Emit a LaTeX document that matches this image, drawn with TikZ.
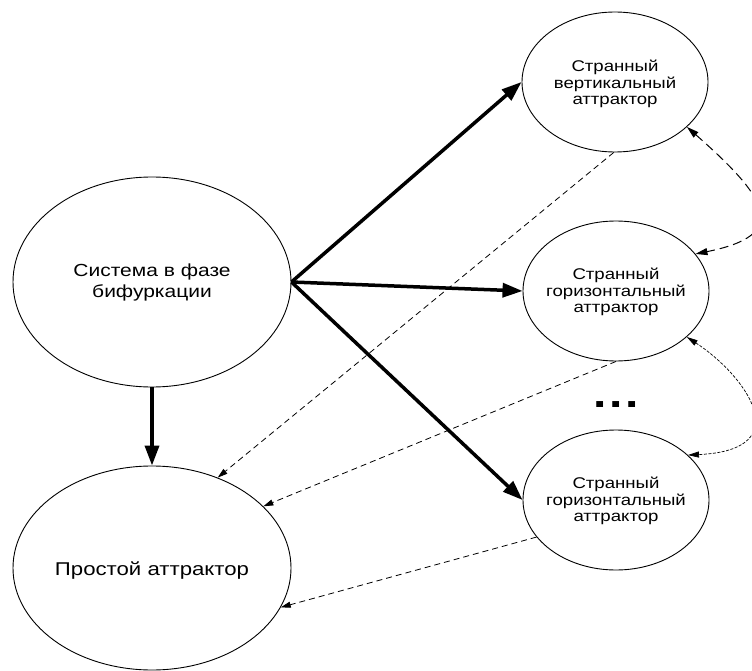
\documentclass[tikz,border=0pt]{standalone}
\usepackage{fontspec}
\setmainfont{Liberation Sans}[FakeStretch=1.2]
\usetikzlibrary{arrows.meta,shapes.geometric}
\begin{document}
\begin{tikzpicture}[x=1pt,y=-1pt,
  ell/.style={draw,ellipse,line width=0.9pt,inner sep=0pt},
  bigell/.style={ell,minimum width=278pt},
  smallell/.style={ell,minimum width=186pt,minimum height=140pt},
  smalltext/.style={align=center,inner sep=0pt,font=\fontsize{15.5}{16.8}\selectfont},
  thickarrow/.style={line width=3.5pt,-{Triangle[length=20pt,width=14pt]}},
  dashedarrow/.style={line width=0.8pt,dash pattern=on 6pt off 4pt,-{Triangle[length=10pt,width=6pt]}},
  curvea/.style={line width=1pt,dash pattern=on 9pt off 5pt,{Triangle[length=12pt,width=7pt]}-{Triangle[length=12pt,width=7pt]}},
  curveb/.style={line width=0.7pt,dash pattern=on 3pt off 1.5pt,{Triangle[length=11pt,width=6pt]}-{Triangle[length=11pt,width=6pt]}},
]
\path[use as bounding box] (0,0) rectangle (752,671);
\clip (0,0) rectangle (752,671);

\node[bigell,minimum height=210pt] (sys) at (152,282) {};
\node[align=center,font=\fontsize{17.5}{21}\selectfont] (systext) at (sys.center) {Система в фазе\\бифуркации};
\node[bigell,minimum height=204pt] (simple) at (152,568) {};
\node[font=\fontsize{18.5}{21}\selectfont] (simpletext) at (152,571) {Простой аттрактор};
\node[smallell] (vert) at (615,82) {};
\node[smalltext] (verttext) at (615,84) {Странный\\вертикальный\\аттрактор};
\node[smallell] (hor1) at (616,291) {};
\node[smalltext] (hor1text) at (616,292) {Странный\\горизонтальный\\аттрактор};
\node[smallell] (hor2) at (616,500) {};
\node[smalltext] (hor2text) at (616,501) {Странный\\горизонтальный\\аттрактор};
\node[anchor=base,font=\fontsize{40}{40}\selectfont\bfseries] (dots) at (616,407) {.\kern3pt.\kern3pt.};

\draw[thickarrow] (sys.south) -- (simple.north);
\draw[thickarrow] (sys.east) -- (vert.west);
\draw[thickarrow] (sys.east) -- (hor1.west);
\draw[thickarrow] (sys.east) -- (hor2.west);

\draw[dashedarrow] (vert.-91) -- (simple.54.5);
\draw[dashedarrow] (hor1.south) -- (simple.29.2);
\draw[dashedarrow] (hor2.205.7) -- (simple.-17.4);

\draw[curvea] (vert.-32) .. controls (770,200) and (790,235) .. (hor1.25);
\draw[curveb] (hor1.-33) .. controls (745,375) and (800,450) .. (hor2.32);
\end{tikzpicture}
\end{document}
